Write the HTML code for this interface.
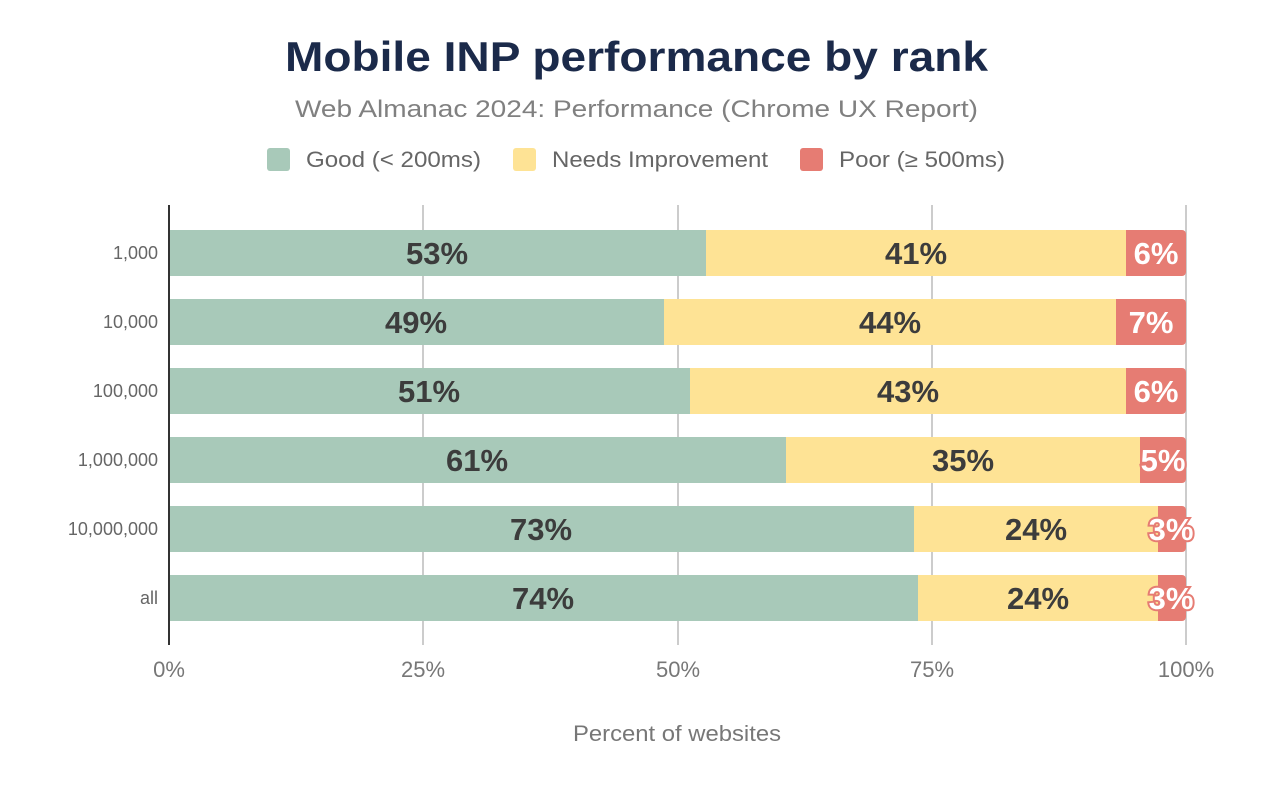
<!DOCTYPE html>
<html><head><meta charset="utf-8"><style>
html,body{margin:0;padding:0;background:#fff;}
svg{display:block;font-family:"Liberation Sans",Arial,sans-serif;}
.v{font-size:31px;font-weight:bold;fill:#3c3c3c;text-anchor:middle;}
.w{font-size:31px;font-weight:bold;fill:#fff;stroke:#e67c73;stroke-width:4;paint-order:stroke;text-anchor:middle;}
.y{font-size:18px;fill:#666;text-anchor:end;}
.x{font-size:22px;fill:#777;text-anchor:middle;}
</style></head><body>
<svg width="1272" height="786" viewBox="0 0 1272 786">
<text x="285" y="71" font-size="42" font-weight="bold" fill="#1b2a4a" textLength="703" lengthAdjust="spacingAndGlyphs">Mobile INP performance by rank</text>
<text x="295" y="117" font-size="24" fill="#808080" textLength="683" lengthAdjust="spacingAndGlyphs">Web Almanac 2024: Performance (Chrome UX Report)</text>
<rect x="267" y="148" width="23" height="23" rx="3" fill="#a8c9b9"/>
<text x="306" y="167" font-size="22" fill="#666" textLength="175" lengthAdjust="spacingAndGlyphs">Good (&lt; 200ms)</text>
<rect x="513" y="148" width="23" height="23" rx="3" fill="#fee395"/>
<text x="552" y="167" font-size="22" fill="#666" textLength="216" lengthAdjust="spacingAndGlyphs">Needs Improvement</text>
<rect x="800" y="148" width="23" height="23" rx="3" fill="#e67c73"/>
<text x="839" y="167" font-size="22" fill="#666" textLength="166" lengthAdjust="spacingAndGlyphs">Poor (≥ 500ms)</text>
<g stroke="#ccc" stroke-width="2">
<line x1="423" y1="205" x2="423" y2="645"/><line x1="678" y1="205" x2="678" y2="645"/>
<line x1="932" y1="205" x2="932" y2="645"/><line x1="1186" y1="205" x2="1186" y2="645"/>
</g>
<g>
<rect x="1100" y="230" width="86" height="46" rx="4" fill="#e67c73"/><rect x="169" y="230" width="537" height="46" fill="#a8c9b9"/><rect x="706" y="230" width="420" height="46" fill="#fee395"/><rect x="1126" y="230" width="50" height="46" fill="#e67c73"/>
<rect x="1100" y="299" width="86" height="46" rx="4" fill="#e67c73"/><rect x="169" y="299" width="495" height="46" fill="#a8c9b9"/><rect x="664" y="299" width="452" height="46" fill="#fee395"/><rect x="1116" y="299" width="60" height="46" fill="#e67c73"/>
<rect x="1100" y="368" width="86" height="46" rx="4" fill="#e67c73"/><rect x="169" y="368" width="521" height="46" fill="#a8c9b9"/><rect x="690" y="368" width="436" height="46" fill="#fee395"/><rect x="1126" y="368" width="50" height="46" fill="#e67c73"/>
<rect x="1100" y="437" width="86" height="46" rx="4" fill="#e67c73"/><rect x="169" y="437" width="617" height="46" fill="#a8c9b9"/><rect x="786" y="437" width="354" height="46" fill="#fee395"/><rect x="1140" y="437" width="36" height="46" fill="#e67c73"/>
<rect x="1100" y="506" width="86" height="46" rx="4" fill="#e67c73"/><rect x="169" y="506" width="745" height="46" fill="#a8c9b9"/><rect x="914" y="506" width="244" height="46" fill="#fee395"/><rect x="1158" y="506" width="18" height="46" fill="#e67c73"/>
<rect x="1100" y="575" width="86" height="46" rx="4" fill="#e67c73"/><rect x="169" y="575" width="749" height="46" fill="#a8c9b9"/><rect x="918" y="575" width="240" height="46" fill="#fee395"/><rect x="1158" y="575" width="18" height="46" fill="#e67c73"/>
</g>
<line x1="169" y1="205" x2="169" y2="645" stroke="#333" stroke-width="2"/>
<g>
<text class="v" x="437" y="264">53%</text><text class="v" x="916" y="264">41%</text><text class="w" x="1156" y="264">6%</text>
<text class="v" x="416" y="333">49%</text><text class="v" x="890" y="333">44%</text><text class="w" x="1151" y="333">7%</text>
<text class="v" x="429" y="402">51%</text><text class="v" x="908" y="402">43%</text><text class="w" x="1156" y="402">6%</text>
<text class="v" x="477" y="471">61%</text><text class="v" x="963" y="471">35%</text><text class="w" x="1163" y="471">5%</text>
<text class="v" x="541" y="540">73%</text><text class="v" x="1036" y="540">24%</text><text class="w" x="1171" y="540">3%</text>
<text class="v" x="543" y="609">74%</text><text class="v" x="1038" y="609">24%</text><text class="w" x="1171" y="609">3%</text>
</g>
<text class="y" x="158" y="259">1,000</text>
<text class="y" x="158" y="328">10,000</text>
<text class="y" x="158" y="397">100,000</text>
<text class="y" x="158" y="466">1,000,000</text>
<text class="y" x="158" y="535">10,000,000</text>
<text class="y" x="158" y="604">all</text>
<text class="x" x="169" y="677">0%</text><text class="x" x="423" y="677">25%</text><text class="x" x="678" y="677">50%</text><text class="x" x="932" y="677">75%</text><text class="x" x="1186" y="677">100%</text>
<text x="573" y="741" font-size="22" fill="#777" textLength="208" lengthAdjust="spacingAndGlyphs">Percent of websites</text>
</svg>
</body></html>
